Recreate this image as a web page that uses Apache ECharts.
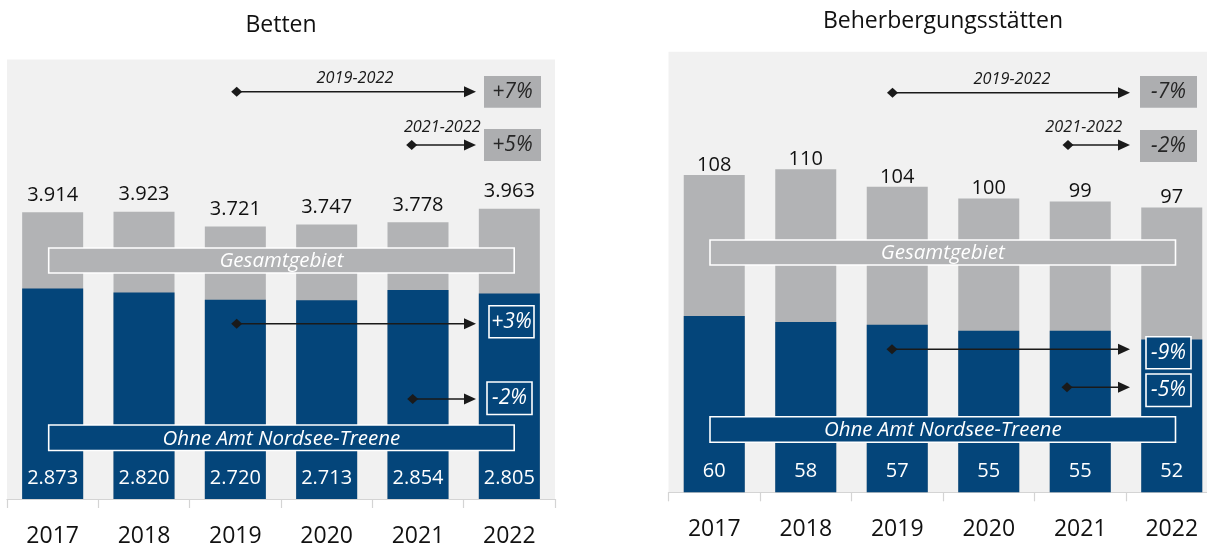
<!DOCTYPE html>
<html>
<head>
<meta charset="utf-8">
<script src="https://cdn.jsdelivr.net/npm/echarts@6/dist/echarts.min.js"></script>
<style>
  html, body { margin: 0; padding: 0; background: #fff; overflow: hidden; }
  #chart { width: 1218px; height: 548px; }
</style>
</head>
<body>
<div id="chart"></div>
<script>
const years = ['2017', '2018', '2019', '2020', '2021', '2022'];
const bettenGesamt = [3914, 3923, 3721, 3747, 3778, 3963];
const bettenOhne = [2873, 2820, 2720, 2713, 2854, 2805];
const staettenGesamt = [108, 110, 104, 100, 99, 97];
const staettenOhne = [60, 58, 57, 55, 55, 52];
const titles = ['Betten', 'Beherbergungsstätten'];
const periods = ['2019-2022', '2021-2022'];
const bettenChange = ['+7%', '+5%', '+3%', '-2%'];
const staettenChange = ['-7%', '-2%', '-9%', '-5%'];
const bandLabels = ['Gesamtgebiet', 'Ohne Amt Nordsee-Treene'];

const BLUE = '#04457a';
const GREY = '#b2b3b5';
const FONT = '"Open Sans", "Noto Sans", sans-serif';

document.addEventListener('DOMContentLoaded', function() {
    const chart = echarts.init(document.getElementById('chart'));

    const fmt = v => String(v).replace(/\B(?=(\d{3})+(?!\d))/g, '.');

    const grids = [
        { left: 7, top: 59.5, width: 548, height: 440.5, max: 6000, topDist: 7 },
        { left: 668.5, top: 51.7, width: 549, height: 440.6, max: 150, topDist: 0 }
    ];

    function barPair(idx, total, part, topDist) {
        return [{
            type: 'bar', xAxisIndex: idx, yAxisIndex: idx,
            data: total, barWidth: 61, barGap: '-100%',
            itemStyle: { color: GREY },
            label: {
                show: true, position: 'top', distance: topDist,
                formatter: p => fmt(p.value),
                color: '#111', fontFamily: FONT, fontSize: 20, lineHeight: 20
            },
            silent: true, animation: false
        }, {
            type: 'bar', xAxisIndex: idx, yAxisIndex: idx,
            data: part, barWidth: 61, barGap: '-100%',
            itemStyle: { color: BLUE },
            label: {
                show: true, position: 'insideBottom', distance: 11,
                formatter: p => fmt(p.value),
                color: '#fff', fontFamily: FONT, fontSize: 20, lineHeight: 20
            },
            silent: true, animation: false
        }];
    }

    function txt(x, y, text, size, color) {
        return { type: 'text', z: 101, x: x, y: y,
            style: { text: text, align: 'center', verticalAlign: 'middle', fill: color,
                fontFamily: FONT, fontStyle: 'italic', fontSize: size } };
    }

    // annotation layout (pixels) for one panel
    function annotations(g, changes) {
        const els = [];
        const dx = g.left;  // panel offset
        const dy = g.top;
        const ink = '#1a1a1a';
        function arrow(x0, x1, y) {
            els.push({ type: 'line', z: 100, shape: { x1: x0, y1: y, x2: x1 - 11, y2: y },
                style: { stroke: ink, lineWidth: 1.6 } });
            els.push({ type: 'polygon', z: 100, shape: { points: [[x0 - 5.5, y], [x0, y - 5], [x0 + 5.5, y], [x0, y + 5]] },
                style: { fill: ink } });
            els.push({ type: 'polygon', z: 100, shape: { points: [[x1 - 12, y - 5.5], [x1, y], [x1 - 12, y + 5.5]] },
                style: { fill: ink } });
        }
        function box(x, y, w, h, text, blue) {
            els.push({ type: 'rect', z: 100, shape: { x: x, y: y, width: w, height: h },
                style: blue ? { fill: BLUE, stroke: '#fff', lineWidth: 1.6 } : { fill: '#adaeb0' } });
            els.push(txt(x + w / 2, y + h / 2, text, 21, blue ? '#fff' : '#262626'));
        }
        function band(x, y, w, h, text, blue) {
            els.push({ type: 'rect', z: 100, shape: { x: x, y: y, width: w, height: h },
                style: { fill: blue ? BLUE : GREY, stroke: '#fff', lineWidth: 1.6 } });
            els.push(txt(x + w / 2, y + h / 2 + 1, text, 20.5, '#fff'));
        }
        function label(x, y, text) {
            els.push(txt(x, y, text, 16.3, '#1a1a1a'));
        }
        const o = g.left > 100 ? 1 : 0; // right panel offsets
        label(dx + (o ? 343.5 : 348), dy + (o ? 27.5 : 19), periods[0]);
        arrow(dx + (o ? 224 : 229.7), dx + (o ? 461.5 : 469), dy + (o ? 41 : 32.2));
        box(dx + (o ? 471.5 : 477), dy + 16.5 + (o ? 7.8 : 0), 57, 31.7, changes[0], false);
        label(dx + (o ? 415.2 : 435.3), dy + (o ? 76 : 68.2), periods[1]);
        arrow(dx + (o ? 399.5 : 404.7), dx + (o ? 461.5 : 469), dy + (o ? 93.3 : 85.5));
        box(dx + (o ? 471.5 : 477), dy + (o ? 78.3 : 69.5), 57, 32, changes[1], false);
        band(dx + (o ? 41.5 : 41.7), dy + (o ? 188.3 : 188.5), 465.5, 25, bandLabels[0], false);
        arrow(dx + (o ? 223.5 : 229.7), dx + (o ? 461.5 : 469), dy + (o ? 297.6 : 264.2));
        box(dx + (o ? 477.5 : 482), dy + (o ? 285 : 246.2), 45, 32, changes[2], true);
        arrow(dx + (o ? 398.5 : 405.7), dx + (o ? 461.5 : 469), dy + (o ? 335.6 : 339.5));
        box(dx + (o ? 477.5 : 480), dy + (o ? 322.3 : 322.5), 45, 32.5, changes[3], true);
        band(dx + (o ? 41.5 : 41.7), dy + (o ? 365 : 365.5), 465.5, 25.5, bandLabels[1], true);
        return els;
    }

    const option = {
        animation: false,
        title: [
            { text: titles[0], left: 281, top: 11, textAlign: 'center', padding: 0,
              textStyle: { fontFamily: FONT, fontSize: 23, fontWeight: 'normal', color: '#111', lineHeight: 28 } },
            { text: titles[1], left: 943, top: 7.7, textAlign: 'center', padding: 0,
              textStyle: { fontFamily: FONT, fontSize: 23, fontWeight: 'normal', color: '#111', lineHeight: 28 } }
        ],
        grid: grids.map(g => ({
            left: g.left, top: g.top, width: g.width, height: g.height,
            show: true, backgroundColor: '#f1f1f1', borderWidth: 0
        })),
        xAxis: grids.map((g, i) => ({
            type: 'category', gridIndex: i, data: years,
            axisLine: { lineStyle: { color: '#d4d4d4', width: 1.2 } },
            axisTick: { show: true, length: 9, lineStyle: { color: '#d4d4d4', width: 1.2 } },
            axisLabel: { color: '#111', fontFamily: FONT, fontSize: 23, lineHeight: 23, margin: 26 }
        })),
        yAxis: grids.map((g, i) => ({
            type: 'value', gridIndex: i, min: 0, max: g.max, show: false,
            splitLine: { show: false }
        })),
        series: [
            ...barPair(0, bettenGesamt, bettenOhne, grids[0].topDist),
            ...barPair(1, staettenGesamt, staettenOhne, grids[1].topDist)
        ],
        graphic: [
            ...annotations(grids[0], bettenChange),
            ...annotations(grids[1], staettenChange)
        ]
    };

    chart.setOption(option);
});
</script>
</body>
</html>
